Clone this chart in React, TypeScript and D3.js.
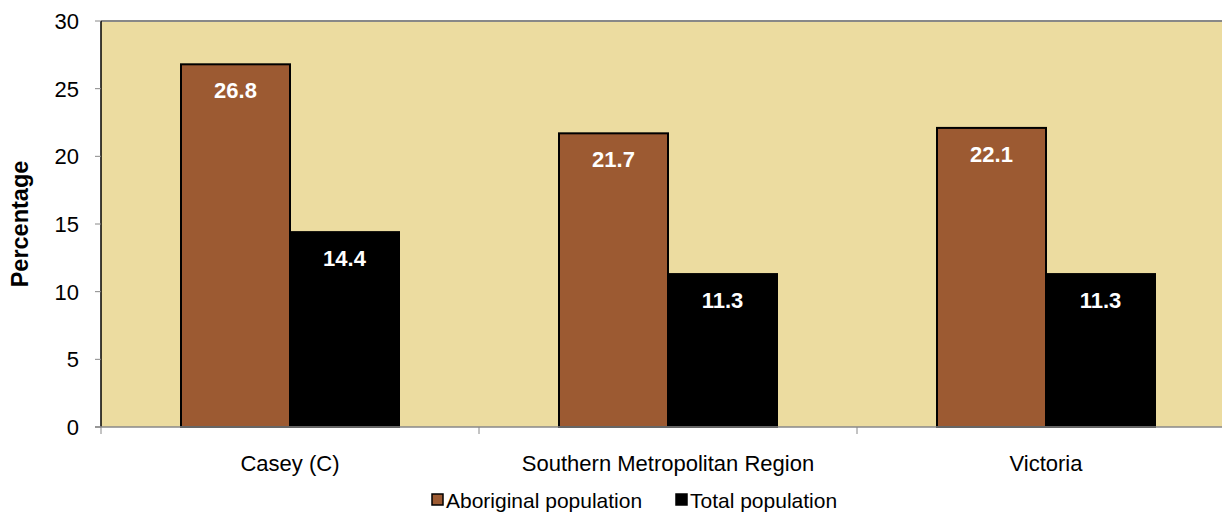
import React from "react";
import * as d3 from "d3";

const categories = ["Casey (C)", "Southern Metropolitan Region", "Victoria"];
const aboriginal = [26.8, 21.7, 22.1];
const total = [14.4, 11.3, 11.3];
const seriesNames = ["Aboriginal population", "Total population"];
const yTicks = [0, 5, 10, 15, 20, 25, 30];

const W = 1222, H = 512;
const left = 101, top = 21, bottom = 427, bandW = 378;
const right = left + bandW * 3;
const colors = ["#9C5A32", "#000000"];
const font = "Arial, 'Liberation Sans', sans-serif";

export default function App() {
  const x = d3.scaleBand<string>().domain(categories).range([left, right]).paddingInner(0).paddingOuter(0);
  const y = d3.scaleLinear().domain([0, 30]).range([bottom, top]);
  const barW = 109;
  const offset = (bandW - 2 * barW) / 2;
  const series = [aboriginal, total];
  return (
    <svg width={W} height={H} style={{ position: "absolute", left: 0, top: 0, fontFamily: font }}>
      <rect x={left} y={top} width={right - left} height={bottom - top} fill="#ECDCA0" />
      <line x1={left} x2={right} y1={top} y2={top} stroke="#888" strokeWidth={2} />
      {series.map((vals, si) =>
        vals.map((v, i) => {
          const bx = (x(categories[i]) as number) + offset + si * barW;
          return (
            <g key={`${si}-${i}`}>
              <rect x={bx} y={y(v)} width={barW} height={bottom - y(v)} fill={colors[si]} stroke="#000" strokeWidth={2} />
              <text x={bx + barW / 2} y={y(v) + 34} fill="#fff" fontSize={22} fontWeight="bold" textAnchor="middle">
                {v.toFixed(1)}
              </text>
            </g>
          );
        })
      )}
      <line x1={left} x2={left} y1={top} y2={bottom} stroke="#000" strokeWidth={1.5} />
      <line x1={left - 6} x2={right} y1={bottom} y2={bottom} stroke="#888" strokeWidth={1.5} />
      {yTicks.map((t) => (
        <g key={t}>
          <line x1={left - 6} x2={left} y1={y(t)} y2={y(t)} stroke="#888" strokeWidth={1} />
          <text x={79} y={y(t) + 8} fontSize={22} textAnchor="end" fill="#000">{t}</text>
        </g>
      ))}
      {categories.map((c, i) => (
        <g key={c}>
          <line x1={left + i * bandW} x2={left + i * bandW} y1={bottom} y2={bottom + 7} stroke="#888" strokeWidth={1} />
          <text x={(x(c) as number) + bandW / 2} y={471} fontSize={22} textAnchor="middle" fill="#000">{c}</text>
        </g>
      ))}
      <text transform={`translate(28,${(top + bottom) / 2}) rotate(-90)`} fontSize={23.5} fontWeight="bold" textAnchor="middle">Percentage</text>
      {seriesNames.map((n, i) => {
        const lx = [432, 676][i];
        return (
          <g key={n}>
            <rect x={lx} y={494} width={11} height={11} fill={colors[i]} stroke="#000" strokeWidth={1.5} />
            <text x={lx + 14} y={508} fontSize={21} fill="#000">{n}</text>
          </g>
        );
      })}
    </svg>
  );
}
